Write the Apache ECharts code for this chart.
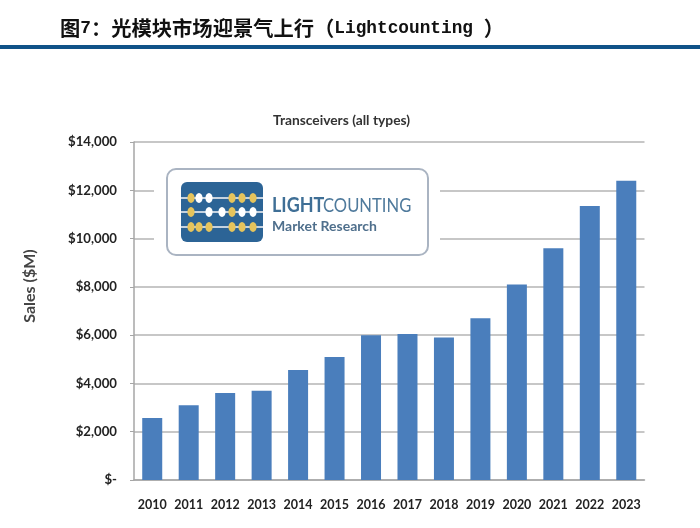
<!DOCTYPE html>
<html><head><meta charset="utf-8">
<style>html,body{margin:0;padding:0;background:#fff}#c{width:700px;height:528px}</style>
<script src="https://cdn.jsdelivr.net/npm/echarts@6/dist/echarts.min.js"></script></head>
<body><div id="c"></div>
<script>
const years=['2010','2011','2012','2013','2014','2015','2016','2017','2018','2019','2020','2021','2022','2023'];
const sales=[2570,3100,3600,3700,4560,5090,6000,6050,5900,6700,8100,9600,11350,12400];
const headline='图7：光模块市场迎景气上行（Lightcounting ）';
const chartTitle='Transceivers (all types)';
const yName='Sales ($M)';
const sans='Lato,"Liberation Sans",sans-serif';
const gold='#e6c45c';
const beadY=[198,212,227];
const beadRows=[
 [[191,gold],[199,'#fff'],[209,'#fff'],[232,gold],[242,gold],[253,gold]],
 [[191,gold],[209,'#fff'],[222,'#fff'],[232,gold],[242,'#fff'],[253,'#fff']],
 [[191,gold],[199,gold],[209,gold],[232,gold],[242,gold],[253,gold]]];
const logo=[
 {type:'rect',shape:{x:154,y:160,width:286,height:100},style:{fill:'#fff'},z:9},
 {type:'rect',shape:{x:167,y:169,width:261,height:86,r:9},style:{fill:'#fff',stroke:'#aab4c2',lineWidth:2},z:10},
 {type:'rect',shape:{x:181,y:182,width:82,height:60,r:6},style:{fill:'#2c6496'},z:11}
];
beadY.forEach((y,i)=>{
 logo.push({type:'rect',shape:{x:181,y:y-1,width:82,height:2},style:{fill:'#c5d2df'},z:12});
 beadRows[i].forEach(b=>logo.push({type:'ellipse',shape:{cx:b[0],cy:y,rx:3.6,ry:5},style:{fill:b[1]},z:13}));
});
logo.push({type:'text',x:272,y:196,scaleX:0.9,style:{text:'LIGHT',font:'bold 20px '+sans,fill:'#3f6f96'},z:12});
logo.push({type:'text',x:323,y:196,scaleX:0.83,style:{text:'COUNTING',font:'20px '+sans,fill:'#4f7a9c'},z:12});
logo.push({type:'text',x:272,y:219,style:{text:'Market Research',font:'bold 14px '+sans,fill:'#4f6f8c'},z:12});
const chart=echarts.init(document.getElementById('c'));
chart.setOption({
 animation:false,
 backgroundColor:'#fff',
 grid:{left:134,right:55.5,top:142,bottom:48},
 xAxis:{type:'category',data:years,
  axisLine:{lineStyle:{color:'#a6a6a6',width:1.5}},axisTick:{show:false},
  axisLabel:{color:'#222',fontFamily:sans,fontWeight:'bold',fontSize:12.5,margin:18,interval:0}},
 yAxis:{type:'value',min:0,max:14000,interval:2000,
  axisLine:{show:true,lineStyle:{color:'#a6a6a6',width:1.5}},
  axisTick:{show:true,length:4,lineStyle:{color:'#a6a6a6'}},
  splitLine:{lineStyle:{color:'#b5b5b5',width:1.5}},
  axisLabel:{color:'#222',fontFamily:sans,fontWeight:'bold',fontSize:13.2,margin:17,
   formatter:v=>v===0?'$-':'$'+v.toLocaleString('en-US')},
  name:yName,nameLocation:'middle',nameGap:96,nameRotate:90,
  nameTextStyle:{color:'#444',fontFamily:sans,fontWeight:'bold',fontSize:16,padding:[0,0,0,50]}},
 series:[{type:'bar',data:sales,barWidth:20,itemStyle:{color:'#4a7ebc'}}],
 title:[
  {text:headline.replace(/[A-Za-z0-9 ]+/g,m=>'{b|'+m+'}'),left:60,top:18,padding:0,
   textStyle:{fontFamily:'"Noto Sans CJK SC",serif',fontWeight:'bold',fontSize:20.3,color:'#111',
    rich:{b:{fontFamily:'"Liberation Mono",monospace',fontWeight:'bold',fontSize:17.8,color:'#111'}}}},
  {text:chartTitle,left:273,top:114,padding:0,textStyle:{fontFamily:sans,fontWeight:'bold',fontSize:13.8,color:'#333'}}
 ],
 graphic:[{type:'rect',shape:{x:0,y:45,width:700,height:4},style:{fill:'#0f5288'}},...logo]
});
</script></body></html>
